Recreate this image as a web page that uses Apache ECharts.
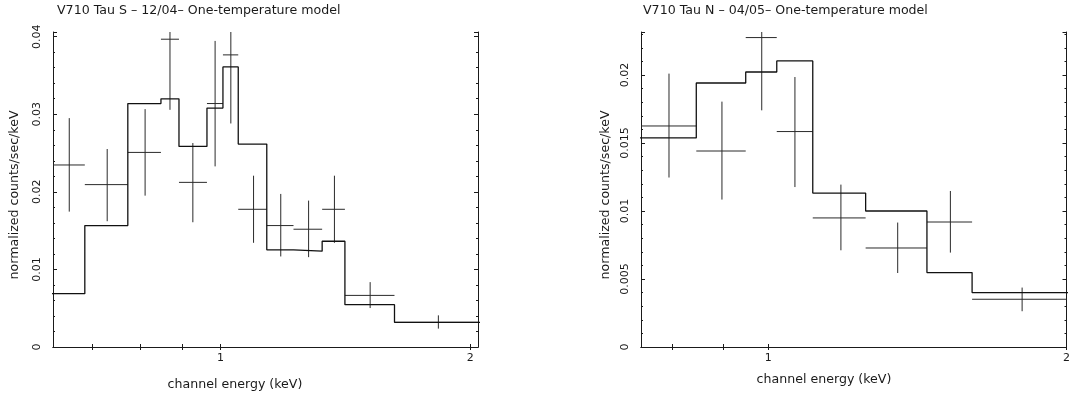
<!DOCTYPE html>
<html>
<head>
<meta charset="utf-8">
<script src="https://cdn.jsdelivr.net/npm/echarts@6/dist/echarts.min.js"></script>
<style>
html, body { margin: 0; padding: 0; background: #fff; }
#chart { width: 1073px; height: 394px; }
</style>
</head>
<body>
<div id="chart"></div>
<script>
// ---- V710 Tau S, 12/04 : one-temperature model fit ----
// channel bin edges (keV)
const sEdges = [0.62, 0.686, 0.773, 0.8475, 0.891, 0.963, 1.0067, 1.0504, 1.137, 1.2246, 1.326, 1.4125, 1.621, 2.10];
// model (normalized counts/sec/keV) per bin
const sModel = [0.00687, 0.01565, 0.03138, 0.03199, 0.02585, 0.03079, 0.0361, 0.02616, 0.01253, 0.01235, 0.01363, 0.00545, 0.00318];
// observed spectrum: bin centre, rate and 1-sigma bounds
const sCenter = [0.657, 0.730, 0.811, 0.869, 0.926, 0.985, 1.029, 1.096, 1.182, 1.277, 1.372, 1.515, 1.831];
const sRate   = [0.02346, 0.02093, 0.02508, 0.03967, 0.02122, 0.03138, 0.03765, 0.01775, 0.01565, 0.01518, 0.01775, 0.00665, 0.00318];
const sErrLo  = [0.01745, 0.01621, 0.01951, 0.03057, 0.01608, 0.02328, 0.02881, 0.01343, 0.01167, 0.01158, 0.01343, 0.00502, 0.00237];
const sErrHi  = [0.0295, 0.02552, 0.03066, 0.0445, 0.02629, 0.03945, 0.0435, 0.02208, 0.01973, 0.01887, 0.02208, 0.00836, 0.00408];

// ---- V710 Tau N, 04/05 : one-temperature model fit ----
const nEdges = [0.72, 0.846, 0.949, 1.020, 1.109, 1.254, 1.446, 1.606, 2.05];
const nModel = [0.01537, 0.01941, 0.02022, 0.02103, 0.01132, 0.0100, 0.00547, 0.00400];
const nCenter = [0.794, 0.898, 0.985, 1.064, 1.184, 1.351, 1.527, 1.804];
const nRate   = [0.01625, 0.01441, 0.02275, 0.01584, 0.00949, 0.00728, 0.00919, 0.00351];
const nErrLo  = [0.01246, 0.01084, 0.0174, 0.01176, 0.00711, 0.00544, 0.00694, 0.00263];
const nErrHi  = [0.0201, 0.01804, 0.0250, 0.01985, 0.01194, 0.00915, 0.01147, 0.00437];

// axis ranges and tick marks
const sXRange = [0.628, 2.044], sYRange = [0, 0.0406], sYStep = 0.01;
const nXRange = [0.744, 2.0],   nYRange = [0, 0.02316], nYStep = 0.005;
const energyTicks = [0.7, 0.8, 0.9, 1, 2];
const energyLabels = [1, 2];

const titles = ['V710 Tau S \u2013 12/04\u2013 One-temperature model', 'V710 Tau N \u2013 04/05\u2013 One-temperature model'];
const xName = 'channel energy (keV)';
const yName = 'normalized counts/sec/keV';

const FONT = 'DejaVu Sans';
const INK = '#1a1a1a';

// histogram step points: each bin value held from its lower to its upper edge
function stepPoints(edges, vals) {
  const pts = vals.map((v, i) => [edges[i], v]);
  pts.push([edges[edges.length - 1], vals[vals.length - 1]]);
  return pts;
}
function crossData(edges, c, r, lo, hi) {
  return r.map((v, i) => [edges[i], edges[i + 1], c[i], v, lo[i], hi[i]]);
}

// data cross: horizontal bar over the channel bin, vertical 1-sigma error bar
function renderCross(params, api) {
  const cs = params.coordSys;
  const cx = x => Math.max(cs.x, Math.min(cs.x + cs.width, x));
  const cy = y => Math.max(cs.y, Math.min(cs.y + cs.height, y));
  const a = api.coord([api.value(0), api.value(3)]);
  const b = api.coord([api.value(1), api.value(3)]);
  const t = api.coord([api.value(2), api.value(5)]);
  const d = api.coord([api.value(2), api.value(4)]);
  const st = { stroke: '#2a2a2a', lineWidth: 1 };
  return {
    type: 'group',
    children: [
      { type: 'line', shape: { x1: cx(a[0]), y1: a[1], x2: cx(b[0]), y2: b[1] }, style: st },
      { type: 'line', shape: { x1: t[0], y1: cy(t[1]), x2: d[0], y2: cy(d[1]) }, style: st }
    ]
  };
}

const yFmt = v => (v === 0 ? '0' : String(+v.toFixed(4)));

function xAxes(gi, range, showLabels, pos) {
  return {
    type: 'log', logBase: 10, gridIndex: gi, position: pos,
    min: range[0], max: range[1],
    axisLine: { show: true, lineStyle: { color: INK, width: 1 } },
    axisTick: { show: true, inside: true, length: 3, customValues: energyTicks, lineStyle: { color: INK } },
    axisLabel: { show: showLabels, customValues: energyLabels, margin: 6, color: INK, fontFamily: FONT, fontSize: 11,
                 formatter: v => String(Math.round(v)) },
    splitLine: { show: false }, minorTick: { show: false }
  };
}
function yAxes(gi, range, step, showLabels, pos, margin) {
  return {
    type: 'value', gridIndex: gi, position: pos,
    min: range[0], max: range[1], interval: step,
    axisLine: { show: true, lineStyle: { color: INK, width: 1 } },
    axisTick: { show: true, inside: true, length: 4, lineStyle: { color: INK } },
    minorTick: { show: true, splitNumber: 5, length: 2, lineStyle: { color: INK } },
    axisLabel: { show: showLabels, rotate: 90, margin: margin, color: INK, fontFamily: FONT, fontSize: 11,
                 showMaxLabel: false, formatter: yFmt },
    splitLine: { show: false }
  };
}

const textStyle = (txt, extra) => Object.assign({ text: txt, fill: INK, font: '12.6px "' + FONT + '"' }, extra);

const option = {
  backgroundColor: '#fff',
  animation: false,
  grid: [
    { left: 53, top: 32, width: 425, height: 315 },
    { left: 641, top: 32, width: 426, height: 315 }
  ],
  xAxis: [
    xAxes(0, sXRange, true, 'bottom'), xAxes(0, sXRange, false, 'top'),
    xAxes(1, nXRange, true, 'bottom'), xAxes(1, nXRange, false, 'top')
  ],
  yAxis: [
    yAxes(0, sYRange, sYStep, true, 'left', 10), yAxes(0, sYRange, sYStep, false, 'right', 10),
    yAxes(1, nYRange, nYStep, true, 'left', 10), yAxes(1, nYRange, nYStep, false, 'right', 10)
  ],
  series: [
    { type: 'line', xAxisIndex: 0, yAxisIndex: 0, step: 'end', symbol: 'none', clip: true,
      lineStyle: { color: '#111', width: 1.3 }, data: stepPoints(sEdges, sModel) },
    { type: 'custom', xAxisIndex: 0, yAxisIndex: 0, renderItem: renderCross,
      encode: { x: [0, 1, 2], y: [3, 4, 5] }, data: crossData(sEdges, sCenter, sRate, sErrLo, sErrHi) },
    { type: 'line', xAxisIndex: 2, yAxisIndex: 2, step: 'end', symbol: 'none', clip: true,
      lineStyle: { color: '#111', width: 1.3 }, data: stepPoints(nEdges, nModel) },
    { type: 'custom', xAxisIndex: 2, yAxisIndex: 2, renderItem: renderCross,
      encode: { x: [0, 1, 2], y: [3, 4, 5] }, data: crossData(nEdges, nCenter, nRate, nErrLo, nErrHi) }
  ],
  graphic: [
    { type: 'text', x: 57, y: 11, style: textStyle(titles[0], { textAlign: 'left', textVerticalAlign: 'middle' }) },
    { type: 'text', x: 643, y: 11, style: textStyle(titles[1], { textAlign: 'left', textVerticalAlign: 'middle' }) },
    { type: 'text', x: 235, y: 385, style: textStyle(xName, { textAlign: 'center', textVerticalAlign: 'middle' }) },
    { type: 'text', x: 824, y: 380, style: textStyle(xName, { textAlign: 'center', textVerticalAlign: 'middle' }) },
    { type: 'text', x: 15, y: 195, rotation: Math.PI / 2, style: textStyle(yName, { textAlign: 'center', textVerticalAlign: 'middle' }) },
    { type: 'text', x: 606, y: 195, rotation: Math.PI / 2, style: textStyle(yName, { textAlign: 'center', textVerticalAlign: 'middle' }) }
  ]
};

const chart = echarts.init(document.getElementById('chart'), null, { renderer: 'canvas' });
chart.setOption(option);
</script>
</body>
</html>
